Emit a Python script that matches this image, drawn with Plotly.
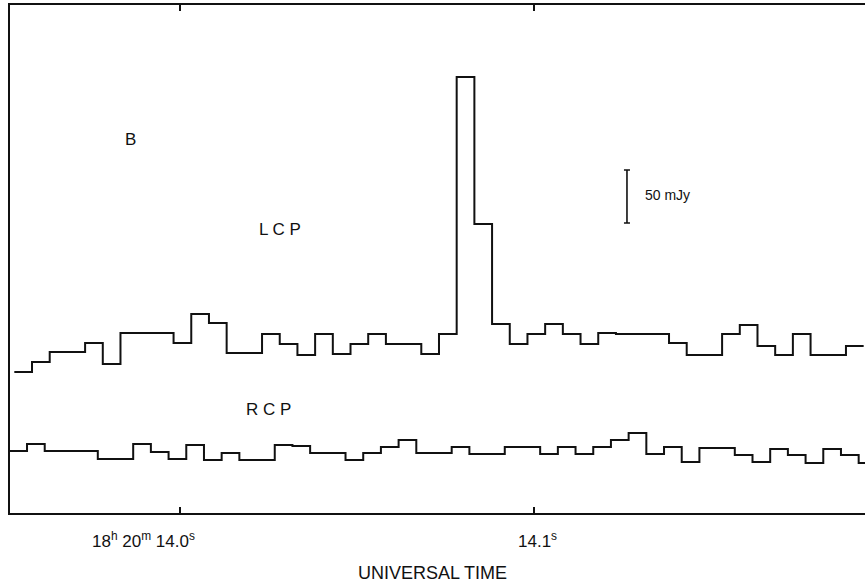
import plotly.graph_objects as go

# ---- data (time in ms after 18h20m14.0s UT, flux in mJy on the plot scale) ----
bin_ms = 5.0
lcp_start_ms = -46.82          # start of first LCP bin
rcp_start_ms = -48.23          # start of first RCP bin

lcp_mjy = [133.0, 142.5, 151.9, 151.9, 160.4, 140.6, 169.8, 169.8, 169.8, 160.4,
           187.7, 179.2, 150.9, 150.9, 168.9, 159.4, 149.1, 168.9, 150.0, 159.4,
           168.9, 159.4, 159.4, 150.0, 168.9, 411.3, 272.6, 178.3, 159.4, 168.9,
           178.3, 168.9, 159.4, 169.8, 168.9, 168.9, 168.9, 160.4, 149.1, 149.1,
           168.9, 177.4, 157.5, 149.1, 168.9, 149.1, 149.1, 157.5]

rcp_mjy = [58.5, 65.1, 58.5, 58.5, 58.5, 50.9, 50.9, 65.1, 57.5, 50.9,
           64.2, 50.0, 56.6, 50.0, 50.0, 64.2, 63.2, 56.6, 56.6, 50.0,
           56.6, 62.3, 68.9, 56.6, 56.6, 62.3, 55.7, 55.7, 62.3, 62.3,
           55.7, 62.3, 55.7, 62.3, 68.9, 75.5, 55.7, 62.3, 48.1, 61.3,
           61.3, 54.7, 48.1, 60.4, 54.7, 47.2, 60.4, 54.7, 47.2]

tick_vals = [0, 100]
tick_texts = ["18<sup>h</sup> 20<sup>m</sup> 14.0<sup>s</sup>", "14.1<sup>s</sup>"]

scale_bar_mjy = 50
scale_bar_center = (126.3, 298.6)

x_range = [-48.04, 193.56]
y_range = [0, 479.2]


def step_xy(start, values):
    xs = [start + bin_ms * i for i in range(len(values) + 1)]
    ys = list(values) + [values[-1]]
    return xs, ys


fig = go.Figure()
for vals, start in ((lcp_mjy, lcp_start_ms), (rcp_mjy, rcp_start_ms)):
    xs, ys = step_xy(start, vals)
    fig.add_trace(go.Scatter(x=xs, y=ys, mode="lines", line_shape="hv",
                             line=dict(color="#111111", width=2),
                             showlegend=False, hoverinfo="skip"))

# 50 mJy scale bar
fig.add_trace(go.Scatter(x=[scale_bar_center[0]], y=[scale_bar_center[1]], mode="markers",
                         marker=dict(size=1, color="rgba(0,0,0,0)"),
                         error_y=dict(type="constant", value=scale_bar_mjy / 2,
                                      color="#111111", thickness=1.6, width=3),
                         showlegend=False, hoverinfo="skip"))

font = "Liberation Sans, Arial, sans-serif"
ann = []
ann.append(dict(x=-14.1, y=352.8, text="B", showarrow=False,
                font=dict(size=17, family=font, color="#111")))
ann.append(dict(x=28.3, y=267.0, text="L C P", showarrow=False,
                font=dict(size=17, family=font, color="#111")))
ann.append(dict(x=24.9, y=98.1, text="R C P", showarrow=False,
                font=dict(size=17, family=font, color="#111")))
ann.append(dict(x=130.8, y=300.0, text="50 mJy", showarrow=False, xanchor="left",
                font=dict(size=14, family=font, color="#111")))
# tick labels
ann.append(dict(x=tick_vals[0], y=0, yref="paper", text=tick_texts[0], showarrow=False,
                xanchor="right", yanchor="middle", xshift=17, yshift=-27,
                font=dict(size=17, family=font, color="#111")))
ann.append(dict(x=tick_vals[1], y=0, yref="paper", text=tick_texts[1], showarrow=False,
                xanchor="center", yanchor="middle", xshift=4, yshift=-27,
                font=dict(size=17, family=font, color="#111")))
ann.append(dict(x=0.4936, xref="paper", y=0, yref="paper", text="UNIVERSAL TIME",
                showarrow=False, xanchor="center", yanchor="middle", yshift=-60,
                font=dict(size=18, family=font, color="#111")))

fig.update_layout(
    width=865, height=583,
    margin=dict(l=10, r=0, t=5, b=70),
    paper_bgcolor="white", plot_bgcolor="white",
    annotations=ann,
    xaxis=dict(range=x_range, showgrid=False, zeroline=False, showline=True,
               linecolor="#111", linewidth=2, mirror="ticks",
               ticks="inside", ticklen=6, tickwidth=1.5, tickcolor="#111",
               tickvals=tick_vals, showticklabels=False),
    yaxis=dict(range=y_range, showgrid=False, zeroline=False, showline=True,
               linecolor="#111", linewidth=2, mirror=False, ticks="",
               showticklabels=False),
)

fig.write_html("out.html")
